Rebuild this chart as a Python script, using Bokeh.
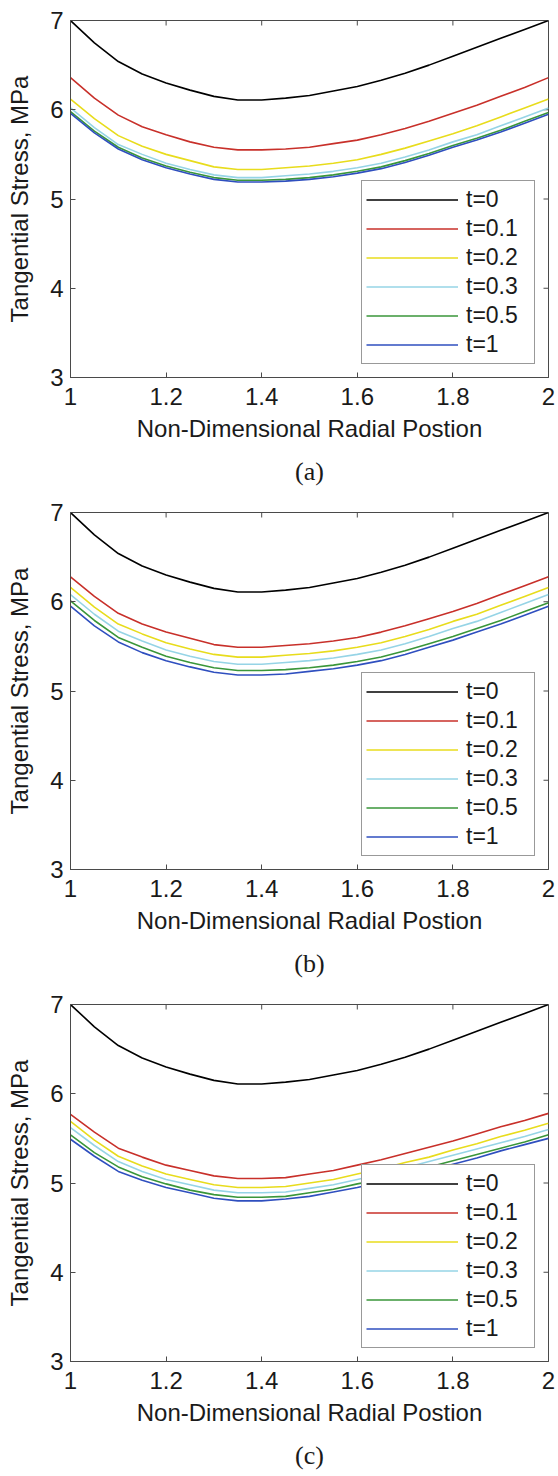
import math
from bokeh.plotting import figure
from bokeh.layouts import column
from bokeh.models import Range1d, FixedTicker, Legend, LegendItem, LinearAxis
from bokeh.embed import file_html
from bokeh.resources import INLINE

# ---------------- data ----------------
r_pos = [1.00, 1.05, 1.10, 1.15, 1.20, 1.25, 1.30, 1.35, 1.40, 1.45, 1.50,
         1.55, 1.60, 1.65, 1.70, 1.75, 1.80, 1.85, 1.90, 1.95, 2.00]
series_labels = ["t=0", "t=0.1", "t=0.2", "t=0.3", "t=0.5", "t=1"]
series_colors = ["#000000", "#c8302a", "#e8dc1c", "#96d4e6", "#3a963a", "#2f4fbf"]

x_ticks = [1.0, 1.2, 1.4, 1.6, 1.8, 2.0]
x_tick_labels = ["1", "1.2", "1.4", "1.6", "1.8", "2"]
y_ticks = [3, 4, 5, 6, 7]
x_title = "Non-Dimensional Radial Postion"
y_title = "Tangential Stress, MPa"
captions = ["(a)", "(b)", "(c)"]

# panel (a)
a_t0  = [7.00, 6.75, 6.54, 6.40, 6.30, 6.22, 6.15, 6.11, 6.11, 6.13, 6.16,
         6.21, 6.26, 6.33, 6.41, 6.50, 6.60, 6.70, 6.80, 6.90, 7.00]
a_t01 = [6.36, 6.13, 5.94, 5.81, 5.72, 5.64, 5.58, 5.55, 5.55, 5.56, 5.58,
         5.62, 5.66, 5.72, 5.79, 5.87, 5.96, 6.05, 6.15, 6.25, 6.36]
a_t02 = [6.12, 5.90, 5.71, 5.59, 5.50, 5.43, 5.36, 5.33, 5.33, 5.35, 5.37,
         5.40, 5.44, 5.50, 5.57, 5.65, 5.73, 5.82, 5.92, 6.02, 6.12]
a_t03 = [6.02, 5.80, 5.61, 5.50, 5.40, 5.33, 5.27, 5.24, 5.24, 5.26, 5.28,
         5.31, 5.35, 5.40, 5.47, 5.55, 5.64, 5.72, 5.82, 5.92, 6.02]
a_t05 = [5.98, 5.76, 5.58, 5.46, 5.37, 5.30, 5.24, 5.21, 5.21, 5.22, 5.24,
         5.27, 5.31, 5.36, 5.43, 5.51, 5.60, 5.68, 5.77, 5.87, 5.97]
a_t1  = [5.96, 5.74, 5.56, 5.44, 5.35, 5.28, 5.22, 5.19, 5.19, 5.20, 5.22,
         5.25, 5.29, 5.34, 5.41, 5.49, 5.58, 5.66, 5.75, 5.85, 5.95]

# panel (b)
b_t0  = [7.00, 6.75, 6.54, 6.40, 6.30, 6.22, 6.15, 6.11, 6.11, 6.13, 6.16,
         6.21, 6.26, 6.33, 6.41, 6.50, 6.60, 6.70, 6.80, 6.90, 7.00]
b_t01 = [6.28, 6.06, 5.87, 5.75, 5.66, 5.59, 5.52, 5.49, 5.49, 5.51, 5.53,
         5.56, 5.60, 5.66, 5.73, 5.81, 5.89, 5.98, 6.08, 6.18, 6.28]
b_t02 = [6.16, 5.94, 5.75, 5.64, 5.54, 5.47, 5.41, 5.38, 5.38, 5.40, 5.42,
         5.45, 5.49, 5.54, 5.61, 5.69, 5.78, 5.86, 5.96, 6.06, 6.16]
b_t03 = [6.08, 5.86, 5.67, 5.56, 5.46, 5.39, 5.33, 5.30, 5.30, 5.32, 5.34,
         5.37, 5.41, 5.46, 5.53, 5.61, 5.70, 5.78, 5.88, 5.98, 6.08]
b_t05 = [6.01, 5.79, 5.60, 5.49, 5.39, 5.32, 5.26, 5.23, 5.23, 5.24, 5.26,
         5.29, 5.33, 5.38, 5.45, 5.53, 5.61, 5.70, 5.79, 5.89, 5.99]
b_t1  = [5.95, 5.73, 5.55, 5.43, 5.34, 5.27, 5.21, 5.18, 5.18, 5.19, 5.22,
         5.25, 5.29, 5.34, 5.41, 5.49, 5.57, 5.66, 5.75, 5.85, 5.95]

# panel (c)
c_t0  = [7.00, 6.75, 6.54, 6.40, 6.30, 6.22, 6.15, 6.11, 6.11, 6.13, 6.16,
         6.21, 6.26, 6.33, 6.41, 6.50, 6.60, 6.70, 6.80, 6.90, 7.00]
c_t01 = [5.77, 5.57, 5.39, 5.29, 5.20, 5.14, 5.08, 5.05, 5.05, 5.06, 5.10,
         5.14, 5.20, 5.26, 5.33, 5.40, 5.47, 5.55, 5.63, 5.70, 5.78]
c_t02 = [5.69, 5.48, 5.30, 5.19, 5.10, 5.04, 4.98, 4.95, 4.95, 4.96, 5.00,
         5.04, 5.10, 5.16, 5.23, 5.29, 5.37, 5.44, 5.52, 5.59, 5.67]
c_t03 = [5.62, 5.42, 5.24, 5.13, 5.04, 4.98, 4.92, 4.89, 4.89, 4.90, 4.94,
         4.98, 5.04, 5.10, 5.17, 5.24, 5.31, 5.38, 5.45, 5.52, 5.60]
c_t05 = [5.54, 5.34, 5.18, 5.07, 4.99, 4.92, 4.87, 4.84, 4.84, 4.85, 4.89,
         4.93, 4.99, 5.04, 5.11, 5.18, 5.25, 5.32, 5.39, 5.46, 5.54]
c_t1  = [5.49, 5.30, 5.13, 5.03, 4.95, 4.89, 4.83, 4.80, 4.80, 4.82, 4.85,
         4.90, 4.95, 5.01, 5.08, 5.14, 5.21, 5.28, 5.36, 5.43, 5.50]

panels = [
    [a_t0, a_t01, a_t02, a_t03, a_t05, a_t1],
    [b_t0, b_t01, b_t02, b_t03, b_t05, b_t1],
    [c_t0, c_t01, c_t02, c_t03, c_t05, c_t1],
]

# ---------------- styling ----------------
FONT = "Liberation Sans"
AX_COLOR = "#4a4a4a"
TXT_COLOR = "#1a1a1a"


def style_axis(ax):
    ax.major_tick_in = 5
    ax.major_tick_out = 0
    ax.minor_tick_line_color = None
    ax.axis_line_color = AX_COLOR
    ax.major_tick_line_color = AX_COLOR
    ax.major_label_text_font = FONT
    ax.major_label_text_color = TXT_COLOR
    ax.major_label_text_font_size = "24px"
    ax.axis_label_text_font = FONT
    ax.axis_label_text_font_size = "24px"
    ax.axis_label_text_font_style = "normal"
    ax.axis_label_text_color = TXT_COLOR


def make_panel(series, caption):
    x0, x1 = x_ticks[0], x_ticks[-1]
    y0, y1 = y_ticks[0], y_ticks[-1]
    p = figure(width=558, height=492, x_range=Range1d(x0, x1), y_range=Range1d(y0, y1),
               output_backend="svg", toolbar_location=None,
               min_border_left=70, min_border_right=10, min_border_top=20,
               min_border_bottom=115)
    p.xgrid.visible = False
    p.ygrid.visible = False
    p.outline_line_color = AX_COLOR
    p.background_fill_color = "white"
    p.border_fill_color = "white"

    xa = p.xaxis[0]
    xa.ticker = FixedTicker(ticks=x_ticks)
    xa.major_label_overrides = {t: s for t, s in zip(x_ticks, x_tick_labels)}
    style_axis(xa)
    xa.major_label_standoff = 10
    xa.axis_label = x_title
    xa.axis_label_standoff = 7

    ya = p.yaxis[0]
    ya.ticker = FixedTicker(ticks=y_ticks)
    style_axis(ya)
    ya.major_label_standoff = 7
    ya.axis_label = y_title
    ya.axis_label_standoff = 14

    # panel caption: the label of a tick-less extra axis below the x axis
    cap = LinearAxis(ticker=FixedTicker(ticks=[]), axis_label=caption,
                     axis_line_color=None, major_tick_line_color=None,
                     minor_tick_line_color=None, major_tick_in=0, major_tick_out=0,
                     minor_tick_in=0, minor_tick_out=0, major_label_standoff=0,
                     axis_label_standoff=12, axis_label_text_font="Liberation Serif",
                     axis_label_text_font_size="26px", axis_label_text_font_style="normal",
                     axis_label_text_color=TXT_COLOR)
    p.add_layout(cap, "below")

    # mirrored inward ticks on the top and right edges (MATLAB box style)
    p.ray(x=x_ticks, y=[y1] * len(x_ticks), length=5, length_units="screen",
          angle=-math.pi / 2, line_color=AX_COLOR, line_width=1)
    p.ray(x=[x1] * len(y_ticks), y=y_ticks, length=5, length_units="screen",
          angle=math.pi, line_color=AX_COLOR, line_width=1)

    items = []
    for vals, lab, col in zip(series, series_labels, series_colors):
        rr = p.line(x=r_pos, y=vals, line_color=col, line_width=1.6)
        items.append(LegendItem(label=lab, renderers=[rr]))

    leg = Legend(items=items, location="bottom_right", margin=13, padding=4,
                 spacing=0, glyph_width=92, glyph_height=29, label_height=29,
                 label_width=64, label_standoff=8,
                 label_text_font=FONT, label_text_font_size="23px",
                 label_text_color=TXT_COLOR,
                 border_line_color="#333333", border_line_width=1,
                 background_fill_color="white", background_fill_alpha=1.0)
    p.add_layout(leg, "center")
    return p


figs = [make_panel(s, c) for s, c in zip(panels, captions)]
layout = column(*figs, spacing=0)
open("out.html", "w").write(file_html(layout, INLINE))
